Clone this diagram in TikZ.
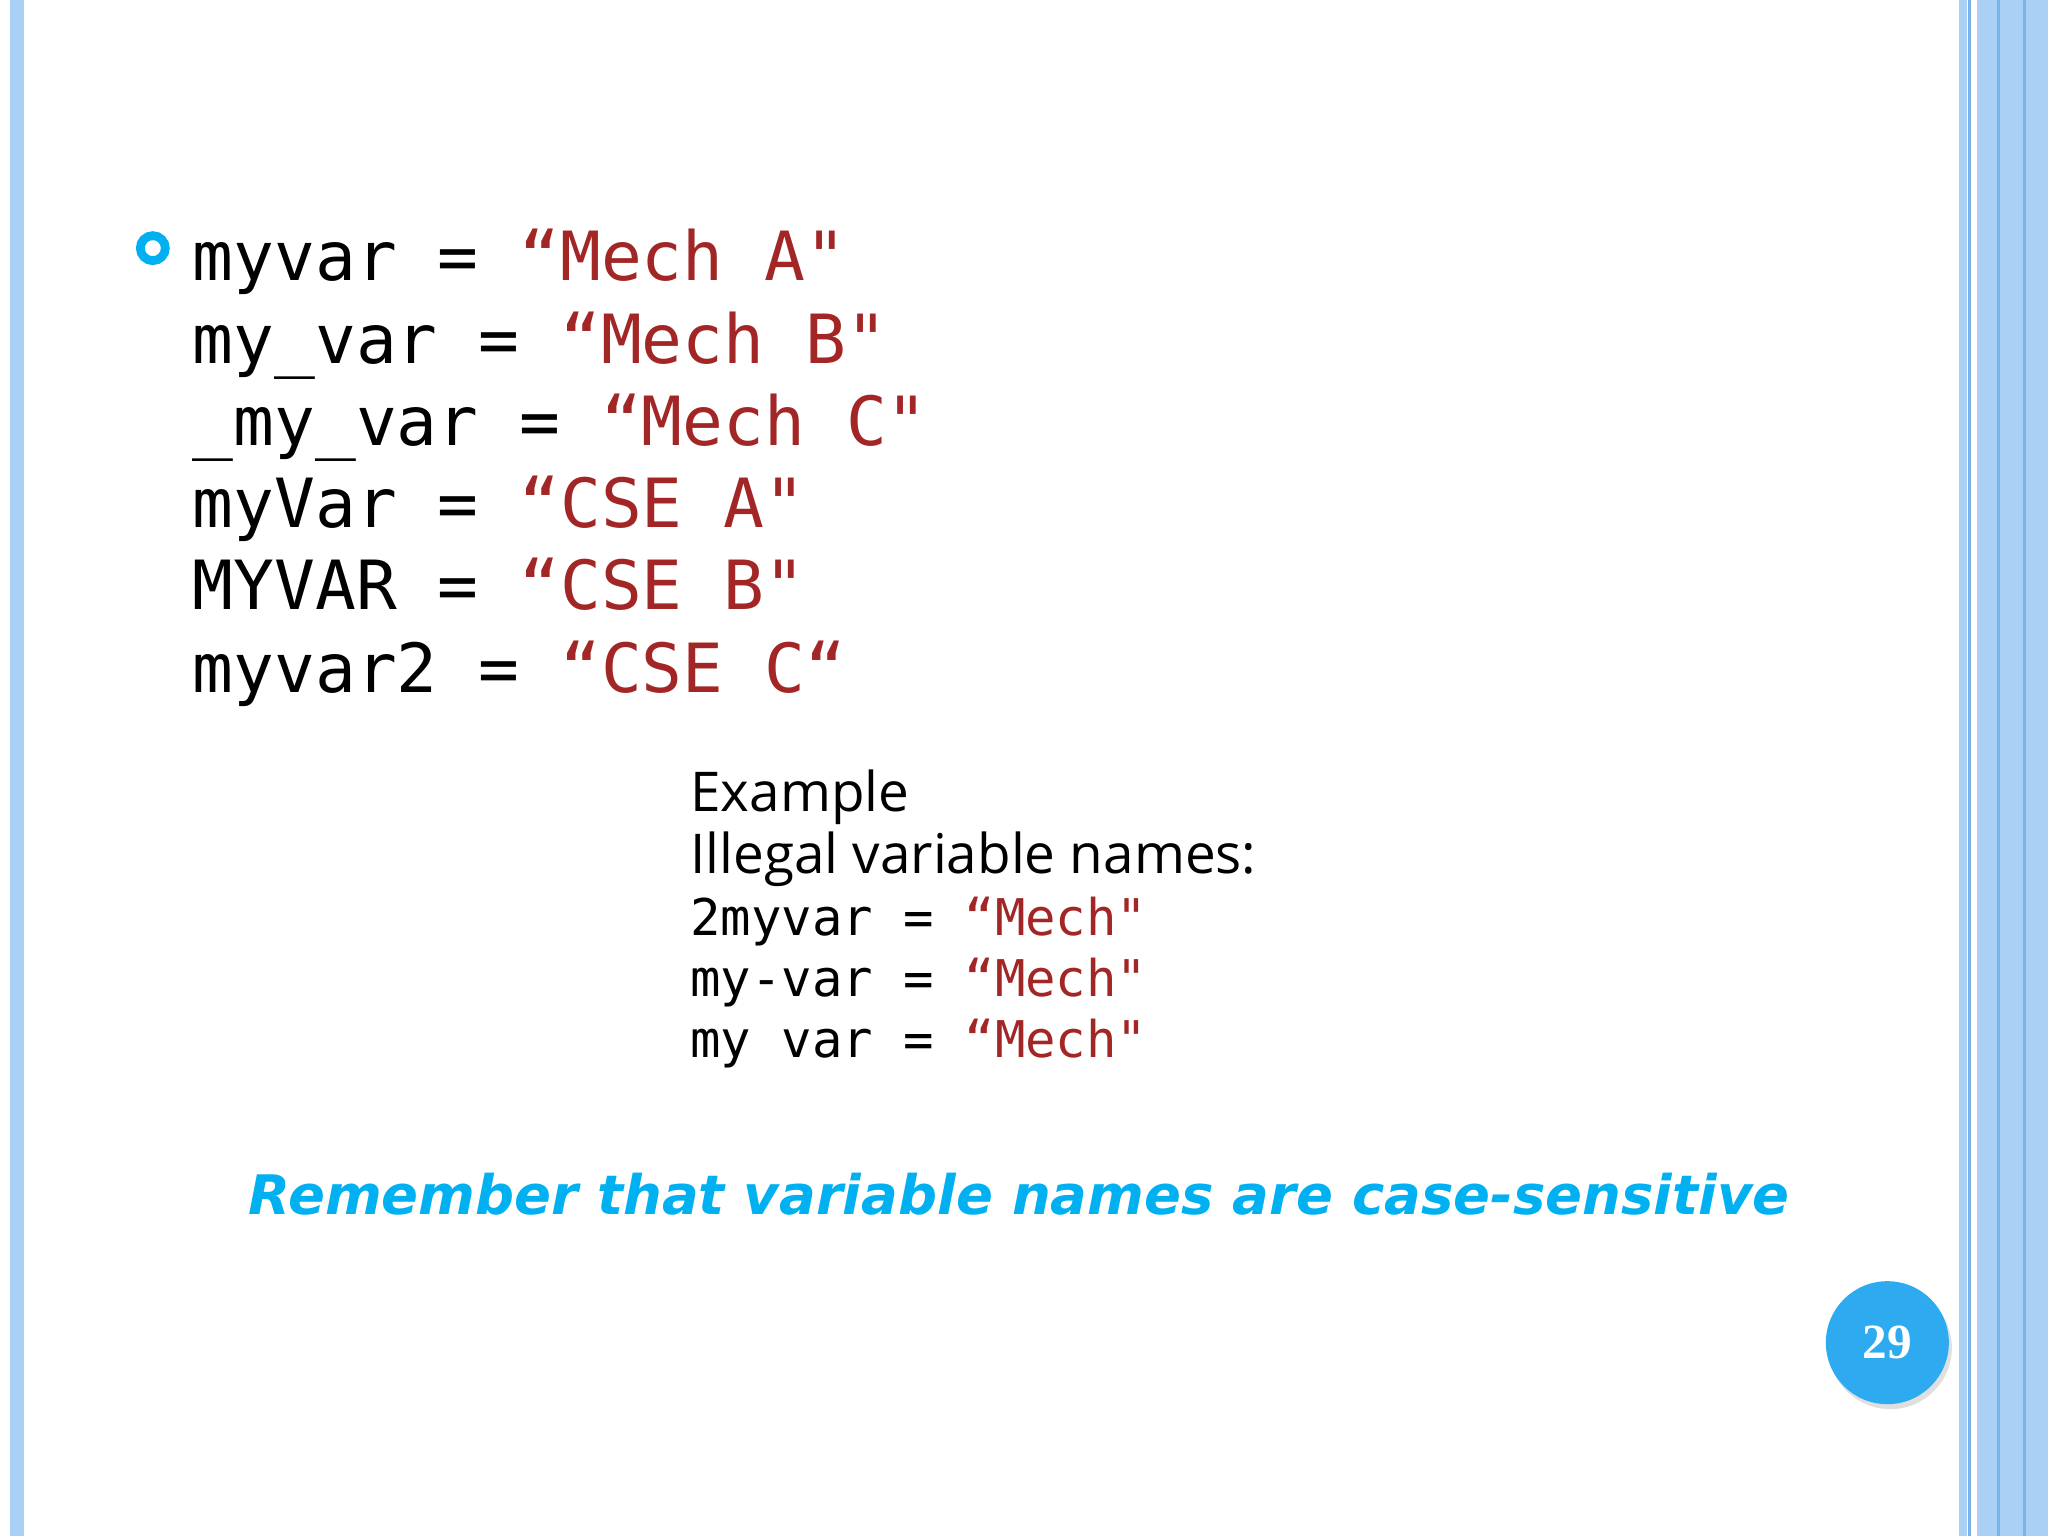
\documentclass[tikz,border=0pt]{standalone}
\usepackage{fontspec}
\setmainfont{Open Sans}
\setmonofont{DejaVu Sans Mono}
\newfontfamily\remfont{DejaVu Sans}
\newfontfamily\numfont{Liberation Serif}
\usetikzlibrary{shadows}
\definecolor{strred}{RGB}{163,38,38}
\definecolor{barblue}{RGB}{170,208,245}
\definecolor{linblue}{RGB}{120,180,235}
\definecolor{remcyan}{RGB}{0,176,240}
\definecolor{pageblue}{RGB}{45,170,240}
\begin{document}
\begin{tikzpicture}[x=0.01306cm, y=-0.01306cm,
    codeline/.style={anchor=base west, inner sep=0pt, font=\ttfamily\fontsize{19.3}{23}\selectfont},
    exline/.style={anchor=base west, inner sep=0pt, font=\fontsize{15.6}{18}\selectfont},
    exmono/.style={anchor=base west, inner sep=0pt, font=\ttfamily\fontsize{14.4}{17}\selectfont}]
    \useasboundingbox (0,0) rectangle (1568,1176);
    % borders
    \fill[barblue] (8,0) rectangle (18,1176);
    \fill[barblue] (1500,0) rectangle (1506,1176);
    \fill[barblue] (1514,0) rectangle (1568,1176);
    \draw[linblue, line width=0.8pt] (1508,0) -- (1508,1176);
    \draw[linblue, line width=0.8pt] (1530,0) -- (1530,1176);
    \draw[linblue, line width=0.8pt] (1550,0) -- (1550,1176);
    % bullet
    \node[circle, draw=remcyan, line width=2.5pt, minimum size=0.25cm, inner sep=0pt] (bullet) at (117,190) {};
    % legal names
    \node[codeline] (l1) at (147,215) {myvar = \textcolor{strred}{“Mech A"}};
    \node[codeline] (l2) at (147,278) {my\_var = \textcolor{strred}{“Mech B"}};
    \node[codeline] (l3) at (147,341) {\_my\_var = \textcolor{strred}{“Mech C"}};
    \node[codeline] (l4) at (147,404) {myVar = \textcolor{strred}{“CSE A"}};
    \node[codeline] (l5) at (147,467) {MYVAR = \textcolor{strred}{“CSE B"}};
    \node[codeline] (l6) at (147,530) {myvar2 = \textcolor{strred}{“CSE C“}};
    % illegal names
    \node[exline] (ex1) at (528,621) {Example};
    \node[exline] (ex2) at (528,669) {Illegal variable names:};
    \node[exmono] (ex3) at (528,716) {2myvar = \textcolor{strred}{“Mech"}};
    \node[exmono] (ex4) at (528,763) {my-var = \textcolor{strred}{“Mech"}};
    \node[exmono] (ex5) at (528,810) {my var = \textcolor{strred}{“Mech"}};
    % note
    \node[anchor=base west, inner sep=0pt, text=remcyan, font=\remfont\bfseries\itshape\fontsize{15.5}{19}\selectfont] (note) at (190,930) {Remember that variable names are case-sensitive};
    % page number
    \node[circle, fill=pageblue, minimum size=1.23cm, inner sep=0pt, drop shadow={opacity=0.25, shadow xshift=0.03cm, shadow yshift=-0.05cm}, text=white, font=\numfont\bfseries\fontsize{14}{16}\selectfont] (page) at (1445,1028) {29};
\end{tikzpicture}
\end{document}
